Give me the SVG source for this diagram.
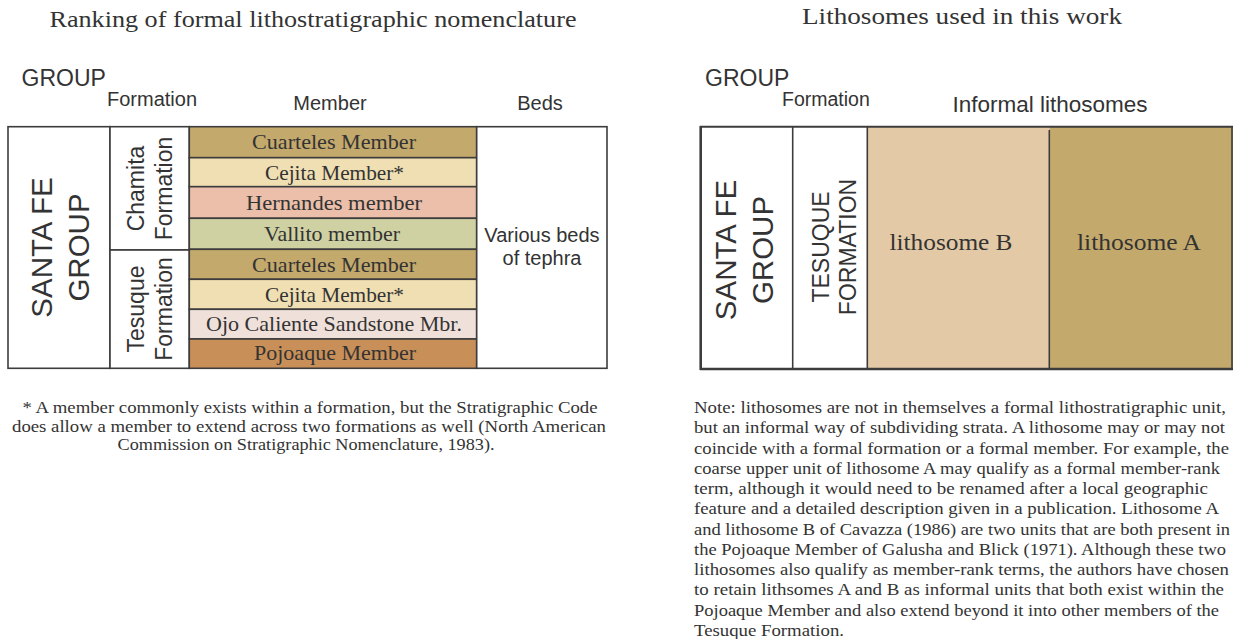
<svg xmlns="http://www.w3.org/2000/svg" width="1233" height="639" viewBox="0 0 1233 639">
<style>
.sans{font-family:"Liberation Sans",Arial,sans-serif;fill:#333}
.serif{font-family:"Liberation Serif","Times New Roman",serif;fill:#333}
.ln{stroke:#3c3c3c;stroke-width:1.6;fill:none}
.bx{stroke:#3c3c3c;stroke-width:1.6}
.hd{font-size:20px}
.mem{font-size:21px;text-anchor:middle}
.rot{text-anchor:middle}
.note{font-size:17.5px}
.pre{white-space:pre}
</style>
<rect width="1233" height="639" fill="#fff"/>

<g id="titles">
<text class="serif" x="313" y="27" font-size="23.5" text-anchor="middle" textLength="527" lengthAdjust="spacingAndGlyphs">Ranking of formal lithostratigraphic nomenclature</text>
<text class="serif" x="962" y="24" font-size="23.5" text-anchor="middle" textLength="320" lengthAdjust="spacingAndGlyphs">Lithosomes used in this work</text>
</g>

<g id="left-headers">
<text class="sans" x="21.5" y="86" font-size="23">GROUP</text>
<text class="sans hd" x="107" y="106" font-size="19.5">Formation</text>
<text class="sans hd" x="330" y="110" text-anchor="middle">Member</text>
<text class="sans hd" x="540" y="110" text-anchor="middle">Beds</text>
</g>

<g id="santa-fe-left">
<rect class="bx" x="8" y="126.7" width="102" height="241.6" fill="#fff" stroke-width="2"/>
<text class="sans rot" font-size="29.5" transform="translate(52,247.5) rotate(-90)">SANTA FE</text>
<text class="sans rot" font-size="29.5" transform="translate(89,247.5) rotate(-90)">GROUP</text>
</g>

<g id="chamita-formation">
<rect class="bx" x="110" y="126.7" width="79.3" height="123.3" fill="#fff"/>
<text class="sans rot" font-size="23" transform="translate(143.5,188.5) rotate(-90)">Chamita</text>
<text class="sans rot" font-size="23" transform="translate(171.5,188.5) rotate(-90)">Formation</text>
</g>

<g id="tesuque-formation-left">
<rect class="bx" x="110" y="250" width="79.3" height="118.3" fill="#fff"/>
<text class="sans rot" font-size="23" transform="translate(143.5,309) rotate(-90)">Tesuque</text>
<text class="sans rot" font-size="23" transform="translate(171.5,309) rotate(-90)">Formation</text>
</g>

<g id="members">
<g id="m-cuarteles-1"><rect class="bx" x="189.3" y="126.7" width="287.4" height="31" fill="#c4a96c"/><text class="serif mem" x="334" y="149.3" textLength="164" lengthAdjust="spacingAndGlyphs">Cuarteles Member</text></g>
<g id="m-cejita-1"><rect class="bx" x="189.3" y="157.7" width="287.4" height="29" fill="#f0dfb3"/><text class="serif mem" x="334.5" y="180" textLength="139" lengthAdjust="spacingAndGlyphs">Cejita Member*</text></g>
<g id="m-hernandes"><rect class="bx" x="189.3" y="186.7" width="287.4" height="31.6" fill="#ebbfa9"/><text class="serif mem" x="334" y="209.5" textLength="176" lengthAdjust="spacingAndGlyphs">Hernandes member</text></g>
<g id="m-vallito"><rect class="bx" x="189.3" y="218.3" width="287.4" height="31" fill="#cfd1a2"/><text class="serif mem" x="332" y="241.3" textLength="136" lengthAdjust="spacingAndGlyphs">Vallito member</text></g>
<g id="m-cuarteles-2"><rect class="bx" x="189.3" y="249.3" width="287.4" height="30" fill="#c4a96c"/><text class="serif mem" x="334" y="271.5" textLength="164" lengthAdjust="spacingAndGlyphs">Cuarteles Member</text></g>
<g id="m-cejita-2"><rect class="bx" x="189.3" y="279.3" width="287.4" height="30" fill="#f0dfb3"/><text class="serif mem" x="334.5" y="302" textLength="139" lengthAdjust="spacingAndGlyphs">Cejita Member*</text></g>
<g id="m-ojo"><rect class="bx" x="189.3" y="309.3" width="287.4" height="29.7" fill="#f0e0da"/><text class="serif mem" x="334" y="330.5" textLength="256" lengthAdjust="spacingAndGlyphs">Ojo Caliente Sandstone Mbr.</text></g>
<g id="m-pojoaque"><rect class="bx" x="189.3" y="339" width="287.4" height="29.3" fill="#c98f58"/><text class="serif mem" x="335" y="360" textLength="162" lengthAdjust="spacingAndGlyphs">Pojoaque Member</text></g>
</g>

<g id="beds">
<rect class="bx" x="476.7" y="126.7" width="130.3" height="241.6" fill="#fff" stroke-width="2"/>
<text class="sans" x="542" y="241.5" font-size="20" text-anchor="middle">Various beds</text>
<text class="sans" x="542" y="265" font-size="20" text-anchor="middle">of tephra</text>
</g>

<g id="left-footnote" class="serif note" text-anchor="middle">
<text x="310" y="413" textLength="575" lengthAdjust="spacingAndGlyphs">* A member commonly exists within a formation, but the Stratigraphic Code</text>
<text x="309" y="432" textLength="594" lengthAdjust="spacingAndGlyphs">does allow a member to extend across two formations as well (North American</text>
<text x="306" y="450" textLength="377" lengthAdjust="spacingAndGlyphs">Commission on Stratigraphic Nomenclature, 1983).</text>
</g>

<g id="right-headers">
<text class="sans" x="705" y="86" font-size="23">GROUP</text>
<text class="sans" x="782" y="106" font-size="19.5">Formation</text>
<text class="sans" x="1050" y="112" font-size="22.5" text-anchor="middle">Informal lithosomes</text>
</g>

<g id="lithosome-b">
<rect x="867.3" y="126.7" width="182" height="242.3" fill="#e3c9a6"/>
<text class="serif" x="951" y="250" font-size="24" text-anchor="middle" textLength="123" lengthAdjust="spacingAndGlyphs">lithosome B</text>
</g>
<g id="lithosome-a">
<rect x="1049.3" y="126.7" width="183.7" height="242.3" fill="#c4a96c"/>
<text class="serif" x="1139" y="250" font-size="24" text-anchor="middle" textLength="124" lengthAdjust="spacingAndGlyphs">lithosome A</text>
</g>

<g id="santa-fe-right">
<rect x="700.7" y="126.7" width="92" height="242.3" fill="#fff"/>
<text class="sans rot" font-size="29.5" transform="translate(735.5,250) rotate(-90)">SANTA FE</text>
<text class="sans rot" font-size="29.5" transform="translate(772.5,250) rotate(-90)">GROUP</text>
</g>
<g id="tesuque-formation-right">
<rect x="792.7" y="126.7" width="74.6" height="242.3" fill="#fff"/>
<text class="sans rot" font-size="23" transform="translate(829,247) rotate(-90)">TESUQUE</text>
<text class="sans rot" font-size="23" transform="translate(855.5,247) rotate(-90)">FORMATION</text>
</g>

<g id="right-lines" class="ln">
<line x1="700" y1="126.7" x2="1233" y2="126.7" stroke-width="2"/>
<line x1="700" y1="369" x2="1233" y2="369" stroke-width="2.4"/>
<line x1="700.7" y1="126" x2="700.7" y2="370" stroke-width="2.6"/>
<line x1="792.7" y1="126.7" x2="792.7" y2="369"/>
<line x1="867.3" y1="126.7" x2="867.3" y2="369"/>
<line x1="1049.3" y1="130" x2="1049.3" y2="369"/>
<line x1="1232" y1="126.7" x2="1232" y2="369"/>
</g>

<g id="right-note" class="serif note pre">
<text x="694" y="413" textLength="532" lengthAdjust="spacingAndGlyphs">Note:  lithosomes are not in themselves a formal lithostratigraphic unit,</text>
<text x="694" y="433" textLength="531" lengthAdjust="spacingAndGlyphs">but an informal way of subdividing strata. A lithosome may or may not</text>
<text x="694" y="453.5" textLength="535" lengthAdjust="spacingAndGlyphs">coincide with a formal formation or a formal member.  For example, the</text>
<text x="694" y="473.5" textLength="526" lengthAdjust="spacingAndGlyphs">coarse upper unit of lithosome A may qualify as a formal member-rank</text>
<text x="694" y="494" textLength="514" lengthAdjust="spacingAndGlyphs">term, although it would need to be renamed after a local geographic</text>
<text x="694" y="514" textLength="525" lengthAdjust="spacingAndGlyphs">feature and a detailed description given in a publication.  Lithosome A</text>
<text x="694" y="534.5" textLength="536" lengthAdjust="spacingAndGlyphs">and lithosome B of Cavazza (1986) are two units that are both present in</text>
<text x="694" y="554.5" textLength="532" lengthAdjust="spacingAndGlyphs">the Pojoaque Member of Galusha and Blick (1971).  Although these two</text>
<text x="694" y="575" textLength="535" lengthAdjust="spacingAndGlyphs">lithosomes also qualify as member-rank terms, the authors have chosen</text>
<text x="694" y="595" textLength="530" lengthAdjust="spacingAndGlyphs">to retain lithsomes A and B as informal units that both exist within the</text>
<text x="694" y="615.5" textLength="525" lengthAdjust="spacingAndGlyphs">Pojoaque Member and also extend beyond it into other members of the</text>
<text x="694" y="635.5" textLength="150" lengthAdjust="spacingAndGlyphs">Tesuque Formation.</text>
</g>
</svg>
